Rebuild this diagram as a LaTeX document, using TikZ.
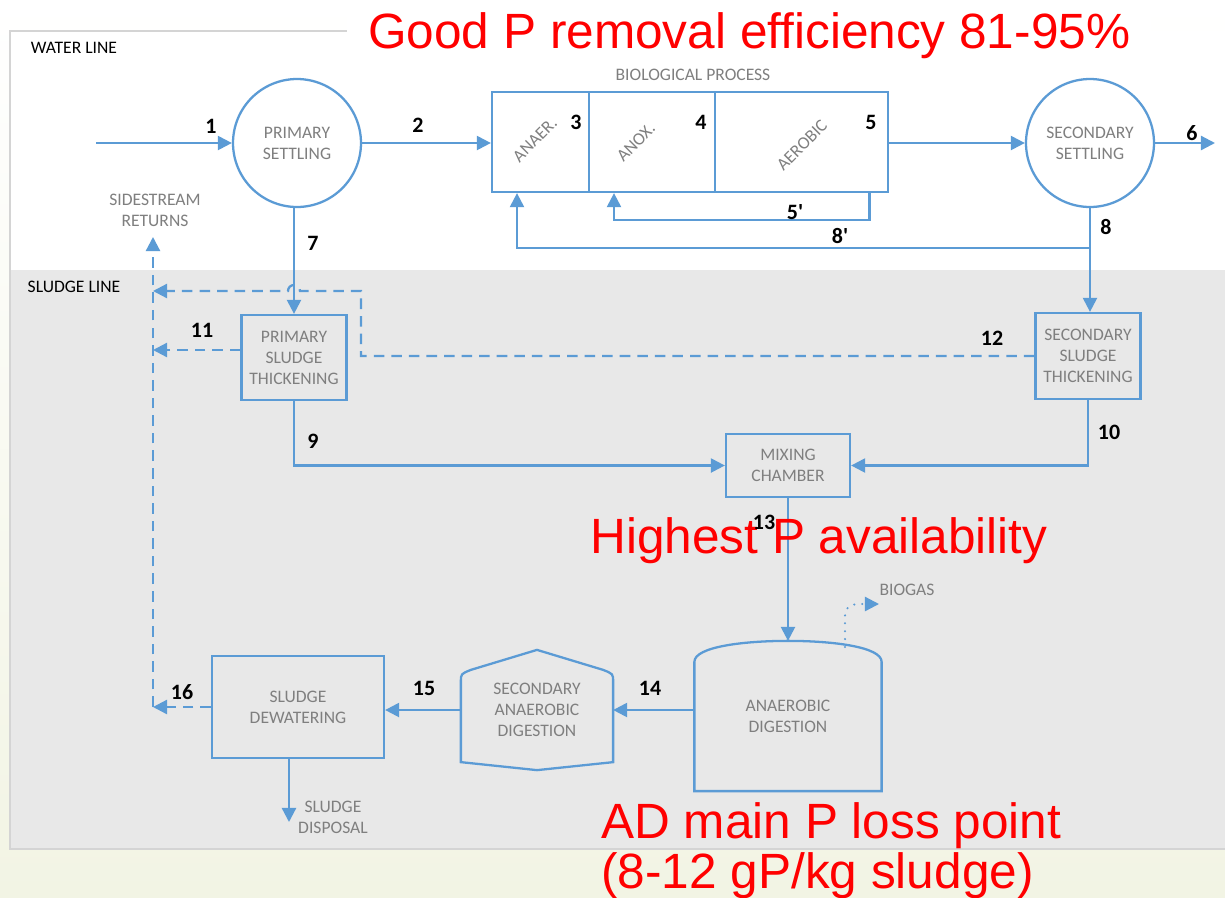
\documentclass[tikz,border=0pt]{standalone}
\usepackage{fontspec}
\setmainfont{Carlito}
\newfontfamily\notefont{Liberation Sans}
\usetikzlibrary{arrows.meta,calc}
\definecolor{flow}{RGB}{91,155,213}
\definecolor{txtgray}{RGB}{127,127,127}
\definecolor{panel}{RGB}{232,232,232}
\definecolor{framegray}{RGB}{212,212,212}
\definecolor{cream}{RGB}{242,244,228}

\begin{document}
\begin{tikzpicture}[x=0.02cm,y=-0.02cm,
	pipe/.style={draw=flow, line width=1.3pt, -{Triangle[length=8pt,width=8pt]}},
	ret/.style={pipe, dash pattern=on 6pt off 4pt},
	unit/.style={draw=flow, line width=1.3pt, text=txtgray, font=\fontsize{10}{12}\selectfont, align=center, inner sep=0pt},
	tank/.style={unit, circle, minimum size=2.56cm},
	lbl/.style={text=txtgray, font=\fontsize{10}{12}\selectfont, align=center, inner sep=1pt},
	num/.style={font=\fontsize{12.5}{14}\selectfont\bfseries, inner sep=1pt},
	note/.style={text=red, font=\notefont\fontsize{28.2}{33}\selectfont, inner sep=0pt}]
	
	\shade[top color=white, bottom color=cream] (0,0) rectangle (1225,897);
	\useasboundingbox (0,0) rectangle (1225,897);
	
	% water line and sludge line panels
	\fill[white] (10,31) rectangle (1225,270);
	\fill[panel] (10,270) rectangle (1225,849);
	\draw[framegray, line width=0.9pt] (347,31) -- (10,31) -- (10,849) -- (1225,849);
	\node[font=\fontsize{10}{12}\selectfont] (wl) at (74,48) {WATER LINE};
	\node[font=\fontsize{10}{12}\selectfont] (sl) at (74,287) {SLUDGE LINE};
	
	% water line
	\node[tank] (ps) at (297,143) {PRIMARY\\SETTLING};
	\node[unit, minimum width=1.94cm, minimum height=2cm] (anaer) at (540.5,142) {};
	\node[unit, minimum width=2.52cm, minimum height=2cm] (anox) at (652,142) {};
	\node[unit, minimum width=3.46cm, minimum height=2cm] (aerobic) at (801.5,142) {};
	\node[tank] (ss) at (1090,143) {SECONDARY\\SETTLING};
	\node[lbl] (bio) at (693,75) {BIOLOGICAL PROCESS};
	\node[lbl, rotate=45] (anaertxt) at (535,140) {ANAER.};
	\node[lbl, rotate=45] (anoxtxt) at (636,142) {ANOX.};
	\node[lbl, rotate=45] (aerotxt) at (802,145) {AEROBIC};
	\node[lbl] (side) at (155,210) {SIDESTREAM\\RETURNS};
	
	% sludge line
	\node[unit, minimum width=2.1cm, minimum height=1.7cm] (pst) at (294,357.5) {PRIMARY\\SLUDGE\\THICKENING};
	\node[unit, minimum width=2.1cm, minimum height=1.72cm] (sst) at (1088,356) {SECONDARY\\SLUDGE\\THICKENING};
	\node[unit, minimum width=2.48cm, minimum height=1.26cm] (mix) at (788,465.5) {MIXING\\CHAMBER};
	\node[unit, draw=none, minimum width=3.7cm, minimum height=2.96cm] (ad) at (788,716) {ANAEROBIC\\DIGESTION};
	\node[unit, draw=none, minimum width=3cm, minimum height=2.36cm] (sad) at (537,710) {SECONDARY\\ANAEROBIC\\DIGESTION};
	\node[unit, minimum width=3.44cm, minimum height=2.04cm] (sd) at (298,707) {SLUDGE\\DEWATERING};
	\node[lbl] (biogas) at (907,590) {BIOGAS};
	\node[lbl] (disposal) at (333,817) {SLUDGE\\DISPOSAL};
	
	\draw[flow, line width=1.3pt] (ad.south west) -- ($(ad.north west)+(0,21)$) .. controls ($(ad.north west)+(0,6)$) and ($(ad.north)+(-45,0)$) .. (ad.north) .. controls ($(ad.north)+(45,0)$) and ($(ad.north east)+(0,6)$) .. ($(ad.north east)+(0,21)$) -- (ad.south east) -- cycle;
	\draw[flow, line width=1.3pt] (sad.north) -- ($(sad.north east)+(-10,20)$) .. controls ($(sad.north east)+(0,24)$) .. ($(sad.north east)+(0,32)$) -- ($(sad.south east)+(0,-8)$) -- (sad.south) -- ($(sad.south west)+(0,-8)$) -- ($(sad.north west)+(0,32)$) .. controls ($(sad.north west)+(0,24)$) .. ($(sad.north west)+(10,20)$) -- cycle;
	
	\coordinate (inlet) at (96,143);
	\coordinate (outlet) at (1215,143);
	\coordinate (r8) at (1090,248);
	\coordinate (bend12) at (361,291);
	\coordinate (side12) at (153,291);
	\coordinate (sideTop) at (153,237);
	\coordinate (sideBot) at (153,707);
	\coordinate (p11) at ([yshift=0.15cm]pst.west);
	\coordinate (disp) at (289,822);
	\coordinate (gasIn) at (845,647);
	\coordinate (gasOut) at (879,604);
	
	\draw[pipe] (inlet) -- (ps.west);
	\draw[pipe] (ps.east) -- (ps.east -| anaer.west);
	\draw[pipe] (aerobic.east |- ss.west) -- (ss.west);
	\draw[pipe] (ss.east) -- (outlet);
	\draw[pipe] ($(aerobic.south)+(68,0)$) -- ++(0,27) -| ($(anox.south)+(-38,0)$);
	\draw[pipe] (r8) -| ($(anaer.south)+(-23.5,0)$);
	\draw[pipe] (ss.south |- r8) -- (ss.south |- sst.north);
	\draw[flow, line width=1.3pt] (ss.south) -- (r8);
	\draw[pipe] (pst.north |- ps.south) -- (pst.north);
	\draw[pipe] (pst.south) |- (mix.west);
	\draw[pipe] (sst.south) |- (mix.east);
	\draw[pipe] (mix.south) -- (ad.north);
	\draw[pipe] (ad.west |- sad.east) -- (sad.east);
	\draw[pipe] (sad.west) -- (sad.west -| sd.east);
	\draw[pipe] (sd.south -| disp) -- (disp);
	\draw[ret] (sst.west) -| (bend12) -- (300,291) arc[start angle=0, end angle=180, radius=0.12cm] -- (side12);
	\draw[ret] (p11) -- (p11 -| sideTop);
	\draw[ret] (sd.west) -- (sd.west -| sideTop);
	\draw[ret] (sideBot) -- (sideTop);
	\draw[pipe, dash pattern=on 0pt off 4.5pt, line cap=round] (gasIn) -- (845,614) to[out=90,in=180] (858,604) -- (gasOut);
	
	% remarks
	\node[note, anchor=base west, fill=white, inner xsep=0.42cm, inner ysep=0.14cm] (good) at (347,48) {Good P removal efficiency 81-95\%};
	\node[note, anchor=base west] (high) at (590,553) {Highest P availability};
	\node[note, anchor=base west] (loss) at (601,838) {AD main P loss point};
	\node[note, anchor=base west] (range) at (601,888) {(8-12 gP/kg sludge)};
	
	% stream numbers
	\node[num] (n1) at (211,126) {1};
	\node[num] (n2) at (418,125) {2};
	\node[num] (n3) at (576,122) {3};
	\node[num] (n4) at (701,122) {4};
	\node[num] (n5) at (871,122) {5};
	\node[num] (n6) at (1192,133) {6};
	\node[num] (n5p) at (795,212) {5\textquotesingle};
	\node[num] (n8p) at (840,236) {8\textquotesingle};
	\node[num] (n8) at (1106,227) {8};
	\node[num] (n7) at (313,243) {7};
	\node[num] (n11) at (202,330) {11};
	\node[num] (n12) at (992,338) {12};
	\node[num] (n9) at (313,441) {9};
	\node[num] (n10) at (1109,432) {10};
	\node[num] (n13) at (764,522) {13};
	\node[num] (n14) at (650,688) {14};
	\node[num] (n15) at (424,688) {15};
	\node[num] (n16) at (182,692) {16};
\end{tikzpicture}
\end{document}
